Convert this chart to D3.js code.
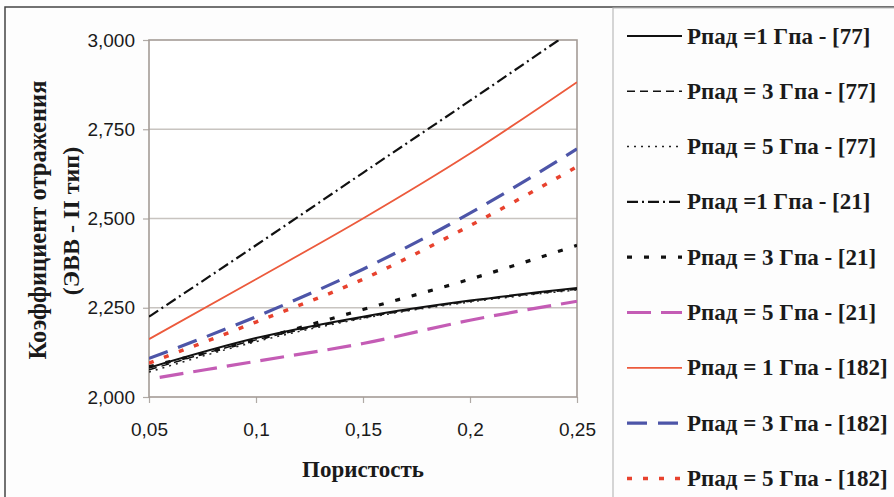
<!DOCTYPE html>
<html><head><meta charset="utf-8">
<script src="https://cdn.jsdelivr.net/npm/d3@7"></script>
<style>html,body{margin:0;padding:0;background:#fdfdfd;}svg{display:block;}</style>
</head><body>
<svg id="c" width="894" height="497"></svg>
<script>
// ---- data ----
const porosity = [0.05, 0.1, 0.15, 0.2, 0.25];
const porosityMag = [0.055, 0.1, 0.15, 0.2, 0.25];
const p1_77  = [2.082, 2.165, 2.225, 2.270, 2.305];
const p3_77  = [2.076, 2.160, 2.222, 2.268, 2.302];
const p5_77  = [2.070, 2.155, 2.220, 2.266, 2.300];
const p1_21  = [2.225, 2.425, 2.628, 2.830, 3.035];
const p3_21  = [2.085, 2.160, 2.245, 2.330, 2.425];
const p5_21  = [2.055, 2.100, 2.150, 2.215, 2.268];
const p1_182 = [2.162, 2.330, 2.500, 2.682, 2.882];
const p3_182 = [2.108, 2.225, 2.358, 2.515, 2.695];
const p5_182 = [2.095, 2.210, 2.330, 2.480, 2.645];
const seriesNames = ["Рпад =1 Гпа - [77]","Рпад = 3 Гпа - [77]","Рпад = 5 Гпа - [77]","Рпад =1 Гпа - [21]","Рпад = 3 Гпа - [21]","Рпад = 5 Гпа - [21]","Рпад = 1 Гпа - [182]","Рпад = 3 Гпа - [182]","Рпад = 5 Гпа - [182]"];
const seriesValues = [p1_77,p3_77,p5_77,p1_21,p3_21,p5_21,p1_182,p3_182,p5_182];
const seriesX = [porosity,porosity,porosity,porosity,porosity,porosityMag,porosity,porosity,porosity];
const yTicks = [2.0, 2.25, 2.5, 2.75, 3.0];
const xTicks = [0.05, 0.1, 0.15, 0.2, 0.25];
const yTitle1 = "Коэффициент отражения";
const yTitle2 = "(ЭВВ - II тип)";
const xTitle = "Пористость";

// ---- styles ----
const styles = [
  {c:"#111", w:2,   d:null},
  {c:"#111", w:1.5, d:"8,5"},
  {c:"#222", w:1.5, d:"2,5"},
  {c:"#111", w:2.2, d:"11,4,2,4"},
  {c:"#111", w:3.2, d:"5,12"},
  {c:"#c45cb5", w:3.2, d:"24,10"},
  {c:"#ec5a3c", w:1.8, d:null},
  {c:"#4d55a8", w:3.2, d:"20,11"},
  {c:"#e8422e", w:3.5, d:"5,11"}
];

const svg = d3.select("#c");
const L = 149, R = 577, T = 40, B = 397;
const x = d3.scaleLinear().domain([0.05, 0.25]).range([L, R]);
const y = d3.scaleLinear().domain([2.0, 3.0]).range([B, T]);
const fmtY = v => d3.format(",.3f")(v).replace(".", ",");
const fmtX = v => String(v).replace(".", ",");

// outer frame
svg.append("path").attr("d","M5,497 V7 H894").attr("fill","none").attr("stroke","#444").attr("stroke-width",1.5);
// legend box
svg.append("path").attr("d","M613,497 V8 H894").attr("fill","none").attr("stroke","#bbb").attr("stroke-width",1.2);

// plot background
svg.append("rect").attr("x",L).attr("y",T).attr("width",R-L).attr("height",B-T).attr("fill","#fff");

// gridlines
svg.append("g").selectAll("line").data(yTicks.filter(v=>v>2 && v<3)).join("line")
  .attr("x1",L).attr("x2",R).attr("y1",d=>y(d)).attr("y2",d=>y(d))
  .attr("stroke","#c8c4c0").attr("stroke-width",1.5);

// axes
const yAxis = d3.axisLeft(y).tickValues(yTicks).tickFormat(fmtY).tickSize(6).tickPadding(8);
const gy = svg.append("g").attr("transform",`translate(${L},0)`).call(yAxis);
gy.select(".domain").remove();
gy.selectAll("line").attr("stroke","#b0aaa6").attr("stroke-width",1.2);
gy.selectAll("text").attr("font-family","'Liberation Sans', Arial, sans-serif").attr("font-size",19).attr("fill","#1a1a1a");

const xAxis = d3.axisBottom(x).tickValues(xTicks).tickFormat(fmtX).tickSize(6).tickPadding(20);
const gx = svg.append("g").attr("transform",`translate(0,${B})`).call(xAxis);
gx.select(".domain").remove();
gx.selectAll("line").attr("stroke","#b0aaa6").attr("stroke-width",1.2);
gx.selectAll("text").attr("font-family","'Liberation Sans', Arial, sans-serif").attr("font-size",19).attr("fill","#1a1a1a");

// plot border
svg.append("rect").attr("x",L).attr("y",T).attr("width",R-L).attr("height",B-T)
  .attr("fill","none").attr("stroke","#a49c96").attr("stroke-width",1.6);

// clip
svg.append("clipPath").attr("id","pc").append("rect").attr("x",L).attr("y",T).attr("width",R-L).attr("height",B-T);

const line = d3.line().x(d=>x(d[0])).y(d=>y(d[1])).curve(d3.curveMonotoneX);
const gl = svg.append("g").attr("clip-path","url(#pc)");
seriesValues.forEach((vals,i)=>{
  const pts = vals.map((v,j)=>[seriesX[i][j], v]);
  const s = styles[i];
  gl.append("path").attr("d",line(pts)).attr("fill","none")
    .attr("stroke",s.c).attr("stroke-width",s.w)
    .attr("stroke-dasharray",s.d).attr("stroke-linecap","butt");
});

// axis titles
const serif = "'Liberation Serif', 'Times New Roman', serif";
svg.append("text").attr("x",363).attr("y",477).attr("text-anchor","middle")
  .attr("font-family",serif).attr("font-weight","bold").attr("font-size",23).attr("fill","#1a1a1a").text(xTitle);
svg.append("text").attr("transform","translate(46,220) rotate(-90)").attr("text-anchor","middle")
  .attr("font-family",serif).attr("font-weight","bold").attr("font-size",24.5).attr("fill","#1a1a1a").text(yTitle1);
svg.append("text").attr("transform","translate(79,221) rotate(-90)").attr("text-anchor","middle")
  .attr("font-family",serif).attr("font-weight","bold").attr("font-size",24).attr("fill","#1a1a1a").text(yTitle2);

// legend
const lg = svg.append("g");
seriesNames.forEach((name,i)=>{
  const cy = 36 + i*55.3;
  const s = styles[i];
  lg.append("line").attr("x1",627).attr("x2",682).attr("y1",cy).attr("y2",cy)
    .attr("stroke",s.c).attr("stroke-width",s.w).attr("stroke-dasharray",s.d);
  lg.append("text").attr("x",687).attr("y",cy+7.5).attr("font-family",serif).attr("font-weight","bold")
    .attr("font-size",23).attr("fill","#1a1a1a").text(name);
});
</script>
</body></html>
